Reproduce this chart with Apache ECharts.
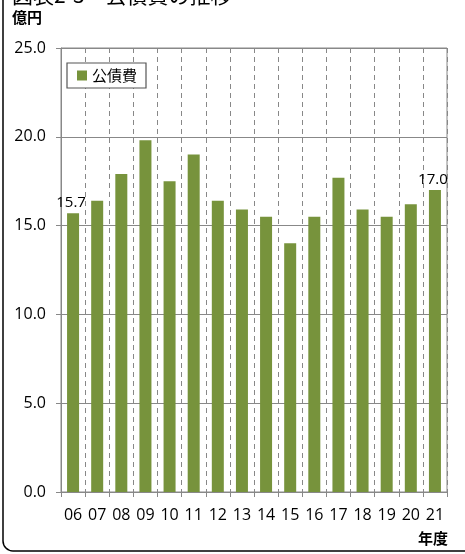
<!DOCTYPE html>
<html><head><meta charset="utf-8">
<script src="https://cdn.jsdelivr.net/npm/echarts@6/dist/echarts.min.js"></script>
<style>html,body{margin:0;padding:0;background:#fff}#c{width:465px;height:554px}</style>
</head><body><div id="c"></div>
<script>
const categories = ["06","07","08","09","10","11","12","13","14","15","16","17","18","19","20","21"];
const seriesName = "公債費";
const values = [15.7,16.4,17.9,19.8,17.5,19.0,16.4,15.9,15.5,14.0,15.5,17.7,15.9,15.5,16.2,17.0];
const labeledIdx = [0, 15];
const titleText = "図表2-3　公債費の推移";
const yUnit = "億円";
const xUnit = "年度";

const FONT = '"Noto Sans CJK JP","Noto Sans",sans-serif';
const NUMFONT = '"Open Sans","Noto Sans CJK JP",sans-serif';
const chart = echarts.init(document.getElementById('c'), null, {renderer:'canvas'});
chart.setOption({
  animation:false,
  textStyle:{fontFamily:FONT},
  title:{text:titleText,left:12,top:-15,padding:0,textStyle:{fontFamily:FONT,fontSize:21,fontWeight:'normal',color:'#000'}},
  graphic:[
    {type:'rect',shape:{x:3,y:-30,width:490,height:581,r:10},style:{fill:'none',stroke:'#000',lineWidth:1.5},silent:true,z:-1},
    {type:'text',left:12,top:10,style:{text:yUnit,font:'bold 15px '+FONT,fill:'#000'}},
    {type:'text',left:418,top:531,style:{text:xUnit,font:'bold 15px '+FONT,fill:'#000'}}
  ],
  legend:{show:true,left:67,top:63,itemWidth:10,itemHeight:10,itemGap:6,padding:[5,9,5,10],
    borderColor:'#555',borderWidth:1.2,backgroundColor:'#fff',
    textStyle:{fontFamily:FONT,fontSize:15,color:'#000'},data:[{name:seriesName,icon:'rect'}]},
  grid:{left:61,right:18,top:48,bottom:62,show:true,borderColor:'#888',borderWidth:1,containLabel:false},
  xAxis:{type:'category',data:categories,boundaryGap:true,
    axisLine:{lineStyle:{color:'#888'}},
    axisTick:{show:true,alignWithLabel:false,length:5,lineStyle:{color:'#888'}},
    axisLabel:{fontFamily:NUMFONT,fontSize:16,color:'#000',margin:15},
    splitLine:{show:true,interval:0,lineStyle:{color:'#888',type:[5,4],width:1}}},
  yAxis:{type:'value',min:0,max:25,interval:5,
    axisLine:{show:true,lineStyle:{color:'#888'}},
    axisTick:{show:true,length:5,lineStyle:{color:'#888'}},
    axisLabel:{fontFamily:NUMFONT,fontSize:16,color:'#000',margin:15,formatter:v=>v.toFixed(1)},
    splitLine:{show:true,lineStyle:{color:'#888',width:1}}},
  series:[{name:seriesName,type:'bar',barWidth:12,itemStyle:{color:'#77933C'},
    data:values.map((v,i)=>labeledIdx.includes(i)?{value:v,label:{show:true,position:'top',distance:3,offset:[-2,0],
      formatter:p=>p.value.toFixed(1),fontFamily:NUMFONT,fontSize:15,color:'#000'}}:v),
    z:3}]
});
</script></body></html>
